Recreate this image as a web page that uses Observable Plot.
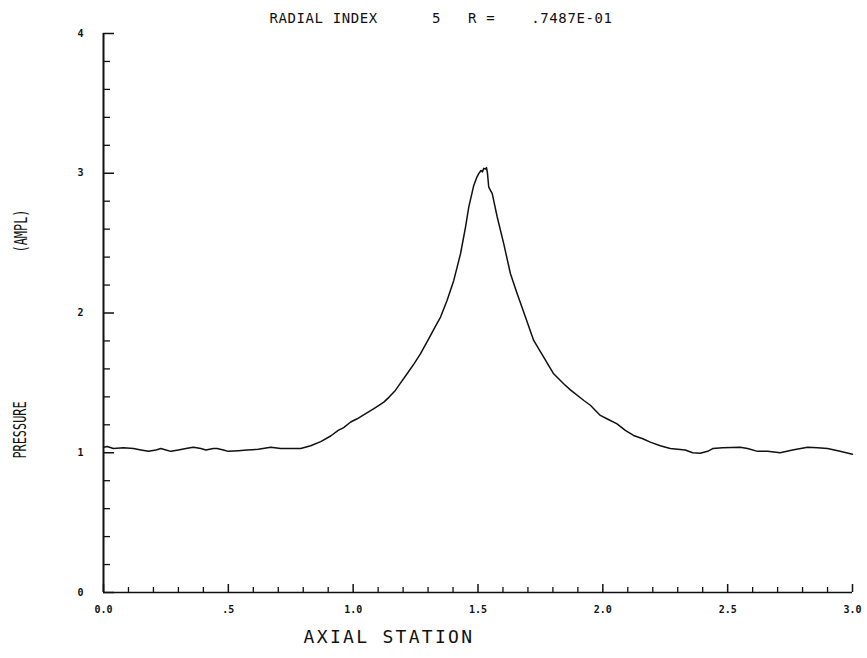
<!DOCTYPE html>
<html>
<head>
<meta charset="utf-8">
<script src="https://cdn.jsdelivr.net/npm/d3@7"></script>
<script src="https://cdn.jsdelivr.net/npm/@observablehq/plot@0.6"></script>
<style>
  body { margin: 0; background: #fff; }
  #wrap { position: relative; width: 867px; height: 658px; overflow: hidden; }
  #chart { position: absolute; left: 0; top: 0; }
  .t { position: absolute; font-family: "DejaVu Sans Mono", monospace; color: #111; white-space: pre; line-height: 1; }
  #title { left: 441px; top: 18px; font-size: 14px; letter-spacing: 0.6px; transform: translate(-50%, -50%); }
  #xlabel { left: 389px; top: 637px; font-size: 18px; letter-spacing: 2.3px; transform: translate(-50%, -50%); }
  #ylabel1, #ylabel2 { font-size: 18px; transform-origin: 0 0; }
</style>
</head>
<body>
<div id="wrap">
  <div id="chart"></div>
  <div class="t" id="title"></div>
  <div class="t" id="xlabel"></div>
  <div class="t" id="ylabel1"></div>
  <div class="t" id="ylabel2"></div>
</div>
<script>
// ---- data ----
const axialStation = [
  0.00, 0.015, 0.04, 0.08, 0.12, 0.15, 0.18, 0.21, 0.23, 0.25, 0.27, 0.30, 0.33, 0.36, 0.39, 0.41,
  0.44, 0.455, 0.48, 0.50, 0.54, 0.575, 0.62, 0.67, 0.71, 0.75, 0.79, 0.83, 0.87, 0.91, 0.94, 0.962,
  0.99, 1.016, 1.05, 1.083, 1.123, 1.145, 1.169, 1.19, 1.216, 1.245, 1.27, 1.303, 1.325, 1.35, 1.376,
  1.403, 1.43, 1.45, 1.463, 1.483, 1.495, 1.503, 1.512, 1.518, 1.523, 1.53, 1.534, 1.538, 1.543,
  1.557, 1.577, 1.603, 1.63, 1.657, 1.69, 1.723, 1.763, 1.803, 1.843, 1.87, 1.924, 1.95, 1.99, 2.02,
  2.057, 2.09, 2.123, 2.16, 2.19, 2.23, 2.27, 2.33, 2.36, 2.39, 2.42, 2.44, 2.48, 2.55, 2.58, 2.62,
  2.66, 2.71, 2.76, 2.82, 2.86, 2.90, 2.95, 3.00
];
const pressure = [
  1.04, 1.045, 1.03, 1.035, 1.03, 1.02, 1.01, 1.02, 1.03, 1.02, 1.01, 1.02, 1.03, 1.04, 1.03, 1.02,
  1.03, 1.03, 1.02, 1.01, 1.015, 1.02, 1.025, 1.04, 1.03, 1.03, 1.03, 1.05, 1.08, 1.12, 1.16, 1.18,
  1.22, 1.243, 1.28, 1.315, 1.362, 1.40, 1.446, 1.50, 1.565, 1.64, 1.709, 1.816, 1.89, 1.971, 2.09,
  2.233, 2.424, 2.615, 2.758, 2.913, 2.97, 2.997, 3.02, 3.01, 3.035, 3.03, 3.04, 3.00, 2.90,
  2.854, 2.687, 2.496, 2.281, 2.138, 1.971, 1.804, 1.684, 1.565, 1.494, 1.45, 1.374, 1.34, 1.267, 1.24,
  1.207, 1.16, 1.124, 1.10, 1.076, 1.05, 1.03, 1.02, 1.00, 0.997, 1.01, 1.03, 1.035, 1.04, 1.03, 1.01,
  1.01, 1.00, 1.02, 1.04, 1.035, 1.03, 1.01, 0.99
];
const xTickValues = [0, 0.5, 1.0, 1.5, 2.0, 2.5, 3.0];
const xTickLabels = ["0.0", ".5", "1.0", "1.5", "2.0", "2.5", "3.0"];
const xMinorTicks = [0.1, 0.2, 0.3, 0.4, 0.6, 0.7, 0.8, 0.9, 1.1, 1.2, 1.3, 1.4, 1.6, 1.7, 1.8, 1.9,
  2.1, 2.2, 2.3, 2.4, 2.6, 2.7, 2.8, 2.9];
const yTickValues = [0, 1, 2, 3, 4];
const yTickLabels = ["0", "1", "2", "3", "4"];
const yMinorTicks = [0.2, 0.4, 0.6, 0.8, 1.2, 1.4, 1.6, 1.8, 2.2, 2.4, 2.6, 2.8, 3.2, 3.4, 3.6, 3.8];
const xDomain = [0, 3];
const yDomain = [0, 4];
const titleText = "RADIAL INDEX      5   R =    .7487E-01";
const xLabelText = "AXIAL STATION";
const yLabelMain = "PRESSURE";
const yLabelUnit = "(AMPL)";

// ---- chart ----
const rows = axialStation.map((x, i) => ({x, y: pressure[i]}));

const chart = Plot.plot({
  width: 867,
  height: 658,
  marginLeft: 103,
  marginRight: 15,
  marginTop: 33,
  marginBottom: 66,
  style: {fontFamily: "'DejaVu Sans Mono', monospace", fontSize: "10px", fontWeight: "bold", color: "#111", background: "#fff"},
  x: {domain: xDomain},
  y: {domain: yDomain},
  marks: [
    Plot.axisY(yMinorTicks, {anchor: "left", tickSize: -7, text: null, label: null, strokeWidth: 1.3}),
    Plot.axisY(yTickValues, {anchor: "left", tickSize: -11, text: null, label: null, strokeWidth: 1.5}),
    Plot.axisY(yTickValues, {anchor: "left", tickSize: 0, tickPadding: 23, textAnchor: "middle", label: null,
      tickFormat: d => yTickLabels[yTickValues.indexOf(d)]}),
    Plot.axisX(xMinorTicks, {anchor: "bottom", tickSize: -5, text: null, label: null, strokeWidth: 1.3}),
    Plot.axisX(xTickValues, {anchor: "bottom", tickSize: -8, text: null, label: null, strokeWidth: 1.5}),
    Plot.axisX(xTickValues, {anchor: "bottom", tickSize: 0, tickPadding: 13, label: null,
      tickFormat: d => xTickLabels[xTickValues.indexOf(d)]}),
    Plot.ruleX([xDomain[0]], {stroke: "#111", strokeWidth: 2}),
    Plot.ruleY([yDomain[0]], {stroke: "#111", strokeWidth: 1.5}),
    Plot.line(rows, {x: "x", y: "y", stroke: "#111", strokeWidth: 1.5})
  ]
});
document.getElementById("chart").appendChild(chart);

document.getElementById("title").textContent = titleText;
document.getElementById("xlabel").textContent = xLabelText;

function placeRotated(id, text, cx, cy, sx) {
  const el = document.getElementById(id);
  el.textContent = text;
  const w = el.offsetWidth, h = el.offsetHeight;
  // rotate -90deg about centre, compress along text direction
  el.style.left = (cx - w / 2) + "px";
  el.style.top = (cy - h / 2) + "px";
  el.style.transformOrigin = "50% 50%";
  el.style.transform = `rotate(-90deg) scaleX(${sx})`;
}
placeRotated("ylabel1", yLabelMain, 20, 430, 0.66);
placeRotated("ylabel2", yLabelUnit, 20, 231, 0.66);
</script>
</body>
</html>
